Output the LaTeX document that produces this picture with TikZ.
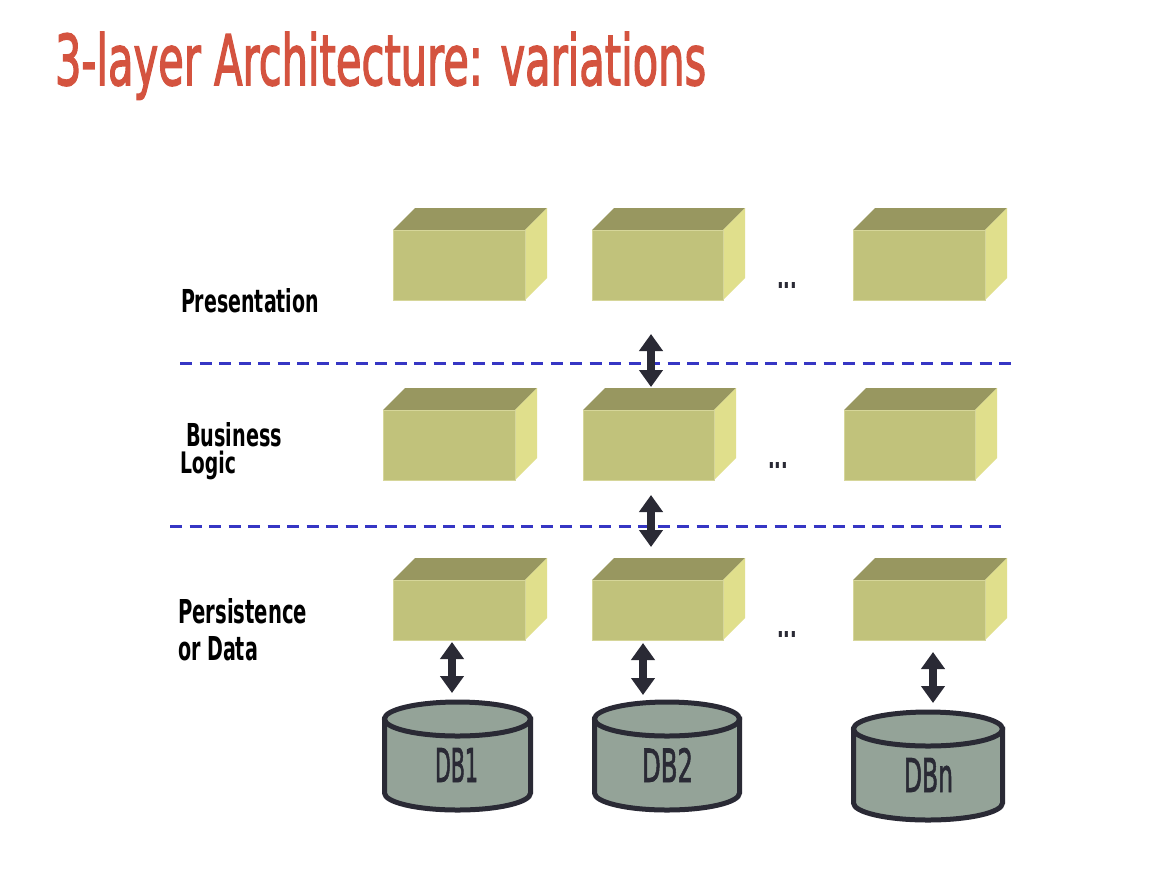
\documentclass[tikz,border=0pt]{standalone}
\usepackage{fontspec}
\usetikzlibrary{arrows.meta}
\newfontfamily\titlefont{DejaVu Sans}[FakeBold=2.5]
\newfontfamily\dbfont{DejaVu Sans}[FakeBold=2]
\newfontfamily\lblfont{DejaVu Sans}[BoldFont={DejaVu Sans Bold}]
\newcommand\myfit[3]{\resizebox{#1pt}{#2pt}{#3}}
\definecolor{titlered}{HTML}{D4533F}
\definecolor{cubefront}{HTML}{C1C27B}
\definecolor{cubetop}{HTML}{989760}
\definecolor{cubeside}{HTML}{E0DF8C}
\definecolor{cubeedge}{HTML}{D6D69A}
\definecolor{sepblue}{HTML}{3636C4}
\definecolor{darkink}{HTML}{2A2A35}
\definecolor{dbfill}{HTML}{94A398}
\tikzset{
  cubefrontstyle/.style={fill=cubefront, draw=cubeedge, line width=0.8pt, inner sep=0pt, outer sep=0pt, anchor=north west},
  cubetopstyle/.style={fill=cubetop},
  cubesidestyle/.style={fill=cubeside},
  sepline/.style={draw=sepblue, line width=3pt, dash pattern=on 12pt off 7.5pt},
  dblarrow/.style={draw=darkink, line width=8pt, {Triangle[width=23pt,length=17pt]}-{Triangle[width=23pt,length=17pt]}},
  dbshape/.style={draw=darkink, fill=dbfill, line width=5pt},
  lbl/.style={anchor=base west, inner sep=0pt, outer sep=0pt},
}
% name, x, y (front top-left), width, height
\newcommand\mycube[5]{%
  \fill[cubetopstyle] (#2,#3) -- ++(22,-22) -- ++(#4,0) -- ++(-22,22) -- cycle;
  \fill[cubesidestyle] (#2+#4,#3) -- ++(22,-22) -- ++(0,#5) -- ++(-22,22) -- cycle;
  \node[cubefrontstyle, minimum width=#4, minimum height=#5] (#1) at (#2,#3) {};
}
% name, cx, rx, top y, bottom y
\newcommand\mydb[5]{%
  \draw[dbshape] (#2-#3,#4) -- (#2-#3,#5) arc[start angle=180, end angle=0, x radius=#3, y radius=17] -- (#2+#3,#4) -- cycle;
  \draw[dbshape] (#2,#4) ellipse[x radius=#3, y radius=17];
  \coordinate (#1) at (#2,#4);
}
\begin{document}
\begin{tikzpicture}[x=1pt, y=-1pt]
\useasboundingbox (0,0) rectangle (1166,884);
\fill[white] (0,0) rectangle (1166,884);

% title
\node[lbl, text=titlered] (title) at (55,85) {\myfit{651}{53}{\titlefont 3-layer Architecture: variations}};

% layer labels
\node[lbl] (lpres) at (181,312) {\myfit{138}{24}{\lblfont\bfseries Presentation}};
\node[lbl] (lbus) at (186,446) {\myfit{96}{24}{\lblfont\bfseries Business}};
\node[lbl] (llog) at (180,473.5) {\myfit{56}{22.5}{\lblfont\bfseries Logic}};
\node[lbl] (lpers) at (178,623) {\myfit{129}{25}{\lblfont\bfseries Persistence}};
\node[lbl] (ldata) at (178,660) {\myfit{80}{24}{\lblfont\bfseries or Data}};

% separators
\coordinate (s1a) at (180,363); \coordinate (s1b) at (1017,363);
\coordinate (s2a) at (170,526); \coordinate (s2b) at (1005,526);
\draw[sepline] (s1a) -- (s1b);
\draw[sepline] (s2a) -- (s2b);

% presentation row
\mycube{p1}{393}{230}{132}{70}
\mycube{p2}{592}{230}{131}{70}
\mycube{p3}{853}{230}{132}{70}
% business row
\mycube{b1}{383}{410}{132}{70}
\mycube{b2}{583}{410}{131}{70}
\mycube{b3}{844}{410}{131}{70}
% persistence row
\mycube{d1}{393}{580}{132}{60}
\mycube{d2}{592}{580}{131}{60}
\mycube{d3}{853}{580}{132}{60}

% ellipses
\node[inner sep=0pt, text=darkink] (dots1) at (787,285) {\myfit{20}{6}{\lblfont\bfseries ...}};
\node[inner sep=0pt, text=darkink] (dots2) at (778,465) {\myfit{20}{6}{\lblfont\bfseries ...}};
\node[inner sep=0pt, text=darkink] (dots3) at (787,634.5) {\myfit{20}{6}{\lblfont\bfseries ...}};

% databases
\mydb{db1}{457.5}{73}{719}{793}
\mydb{db2}{667}{72.5}{719}{793}
\mydb{dbn}{928}{74.5}{729}{803}
\node[lbl, text=darkink] (t1) at (435,782) {\myfit{43}{34}{\dbfont DB1}};
\node[lbl, text=darkink] (t2) at (642,782) {\myfit{51}{34}{\dbfont DB2}};
\node[lbl, text=darkink] (tn) at (904,792) {\myfit{49}{34}{\dbfont DBn}};

% arrows
\coordinate (a1s) at (651,334); \coordinate (a1e) at (651,387);
\coordinate (a2s) at (651,495); \coordinate (a2e) at (651,547);
\coordinate (a3s) at (452,642); \coordinate (a3e) at (452,693);
\coordinate (a4s) at (643,643); \coordinate (a4e) at (643,695);
\coordinate (a5s) at (933,652); \coordinate (a5e) at (933,703);
\draw[dblarrow] (a1s) -- (a1e);
\draw[dblarrow] (a2s) -- (a2e);
\draw[dblarrow] (a3s) -- (a3e);
\draw[dblarrow] (a4s) -- (a4e);
\draw[dblarrow] (a5s) -- (a5e);
\end{tikzpicture}
\end{document}
